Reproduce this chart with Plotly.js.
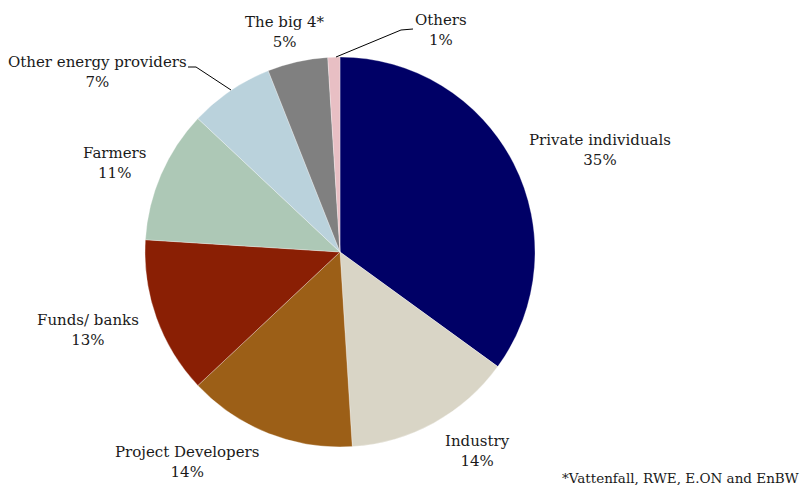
<!DOCTYPE html>
<html>
<head>
<meta charset="utf-8">
<script src="https://cdn.plot.ly/plotly-3.0.1.min.js"></script>
<style>html,body{margin:0;padding:0;background:#fff;}#chart{width:804px;height:485px;}</style>
</head>
<body>
<div id="chart"></div>
<script>
const categories = ["Private individuals","Industry","Project Developers","Funds/ banks","Farmers","Other energy providers","The big 4*","Others"];
const shares = [35,14,14,13,11,7,5,1];
const colors = ["#000066","#D9D5C6","#9C5F17","#8A1F04","#ADC8B6","#BAD2DC","#808080","#E8BFC4"];
const footnote = "*Vattenfall, RWE, E.ON and EnBW";

// label anchor positions in pixels (centre of the two-line label)
const labelPos = [[600,150],[477,451],[187,462],[88,330],[115,163],[97,72],[285,32],[441,30]];

const W = 804, H = 485;
const px = x => x / W, py = y => 1 - y / H;
const font = {family: "DejaVu Serif, Georgia, serif", size: 15, color: "#1a1a1a"};

const annotations = categories.map((c, i) => ({
  xref: "paper", yref: "paper",
  x: px(labelPos[i][0]), y: py(labelPos[i][1]),
  text: c + "<br>" + shares[i] + "%",
  showarrow: false, font: font, align: "center",
  xanchor: "center", yanchor: "middle"
}));
annotations.push({
  xref: "paper", yref: "paper", x: px(801), y: py(478),
  text: footnote, showarrow: false,
  font: {family: font.family, size: 13.5, color: "#1a1a1a"},
  xanchor: "right", yanchor: "middle"
});

const shapes = [
  {type: "path", xref: "paper", yref: "paper",
   path: `M ${px(188)} ${py(67)} L ${px(196)} ${py(67)} L ${px(231)} ${py(90)}`,
   line: {color: "#000", width: 1}},
  {type: "path", xref: "paper", yref: "paper",
   path: `M ${px(413)} ${py(29)} L ${px(401)} ${py(30)} L ${px(336)} ${py(57)}`,
   line: {color: "#000", width: 1}}
];

const cx = 340, cy = 252, r = 195;
Plotly.newPlot("chart", [{
  type: "pie",
  labels: categories,
  values: shares,
  sort: false,
  direction: "clockwise",
  rotation: 0,
  marker: {colors: colors, line: {color: "#ffffff", width: 0.3}},
  textinfo: "none",
  hoverinfo: "label+percent",
  domain: {x: [px(cx - r), px(cx + r)], y: [py(cy + r), py(cy - r)]}
}], {
  width: W, height: H,
  margin: {l: 0, r: 0, t: 0, b: 0},
  showlegend: false,
  paper_bgcolor: "#ffffff",
  annotations: annotations,
  shapes: shapes
}, {displayModeBar: false, staticPlot: true});
</script>
</body>
</html>
